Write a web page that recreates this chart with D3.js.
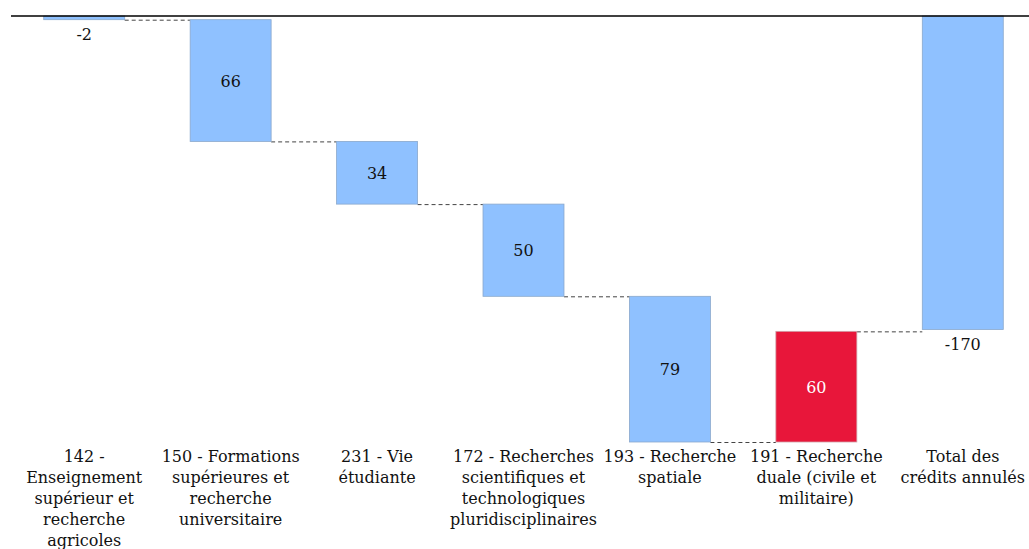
<!DOCTYPE html>
<html>
<head>
<meta charset="utf-8">
<script src="https://cdn.jsdelivr.net/npm/d3@7"></script>
<style>
  body { margin: 0; background: #fff; }
  text { font-family: "DejaVu Serif", "Liberation Serif", serif; }
</style>
</head>
<body>
<div id="chart"></div>
<script>
// data
var categories = ['142', '150', '231', '172', '193', '191', 'total']
var labels = [
  ['142 -', 'Enseignement', 'supérieur et', 'recherche', 'agricoles'],
  ['150 - Formations', 'supérieures et', 'recherche', 'universitaire'],
  ['231 - Vie', 'étudiante'],
  ['172 - Recherches', 'scientifiques et', 'technologiques', 'pluridisciplinaires'],
  ['193 - Recherche', 'spatiale'],
  ['191 - Recherche', 'duale (civile et', 'militaire)'],
  ['Total des', 'crédits annulés']
]
var deltas = [-2, -66, -34, -50, -79, 60, -170]
var shown = ['-2', '66', '34', '50', '79', '60', '-170']
var isTotal = [false, false, false, false, false, false, true]

var W = 1029, H = 549

var svg = d3.select('#chart').append('svg')
  .attr('width', W)
  .attr('height', H)

// build start/end of each step
var steps = []
var run = 0
deltas.forEach(function(d, i) {
  if (isTotal[i]) {
    steps.push({ i: i, start: 0, end: d })
  } else {
    steps.push({ i: i, start: run, end: run + d })
    run += d
  }
})

var x = d3.scaleBand()
  .domain(categories)
  .range([11, 1036])
  .paddingInner(0.447)
  .paddingOuter(0.2235)

var y = d3.scaleLinear()
  .domain([0, -231])
  .range([16, 442])

// connectors
for (var k = 0; k < steps.length - 1; k++) {
  var lvl = steps[k].end
  svg.append('line')
    .attr('x1', x(categories[k]) + x.bandwidth())
    .attr('x2', x(categories[k + 1]))
    .attr('y1', y(lvl) + 0.5)
    .attr('y2', y(lvl) + 0.5)
    .attr('stroke', '#444')
    .attr('stroke-width', 1)
    .attr('stroke-dasharray', '4,3')
}

// bars
svg.selectAll('.bar')
  .data(steps)
  .enter().append('rect')
  .attr('class', 'bar')
  .attr('x', function(d) { return x(categories[d.i]) })
  .attr('width', x.bandwidth())
  .attr('y', function(d) { return y(Math.max(d.start, d.end)) })
  .attr('height', function(d) { return Math.abs(y(d.start) - y(d.end)) })
  .attr('fill', function(d) { return deltas[d.i] > 0 ? '#e8163a' : '#8fc1ff' })
  .attr('stroke', function(d) { return deltas[d.i] > 0 ? '#d0a0a8' : '#8aa8cc' })
  .attr('stroke-width', 0.8)

// value labels
svg.selectAll('.val')
  .data(steps)
  .enter().append('text')
  .attr('class', 'val')
  .attr('x', function(d) { return x(categories[d.i]) + x.bandwidth() / 2 })
  .attr('y', function(d) {
    var h = Math.abs(y(d.start) - y(d.end))
    if (h < 40 || isTotal[d.i]) return y(Math.min(d.start, d.end)) + 20
    return (y(d.start) + y(d.end)) / 2 + 6
  })
  .attr('text-anchor', 'middle')
  .style('font-size', '16px')
  .attr('fill', function(d) { return deltas[d.i] > 0 ? '#fff' : '#111' })
  .text(function(d) { return shown[d.i] })

// top axis line
svg.append('line')
  .attr('x1', x.range()[0])
  .attr('x2', W)
  .attr('y1', y(0))
  .attr('y2', y(0))
  .attr('stroke', '#000')
  .attr('stroke-width', 1.5)

// category labels
var lab = svg.selectAll('.lab')
  .data(labels)
  .enter().append('text')
  .attr('class', 'lab')
  .attr('text-anchor', 'middle')
  .style('font-size', '16px')
  .attr('fill', '#111')

lab.selectAll('tspan')
  .data(function(d, i) { return d.map(function(s) { return { s: s, i: i } }) })
  .enter().append('tspan')
  .attr('x', function(d) { return x(categories[d.i]) + x.bandwidth() / 2 })
  .attr('y', function(d, j) { return 462 + j * 21 })
  .text(function(d) { return d.s })
</script>
</body>
</html>
